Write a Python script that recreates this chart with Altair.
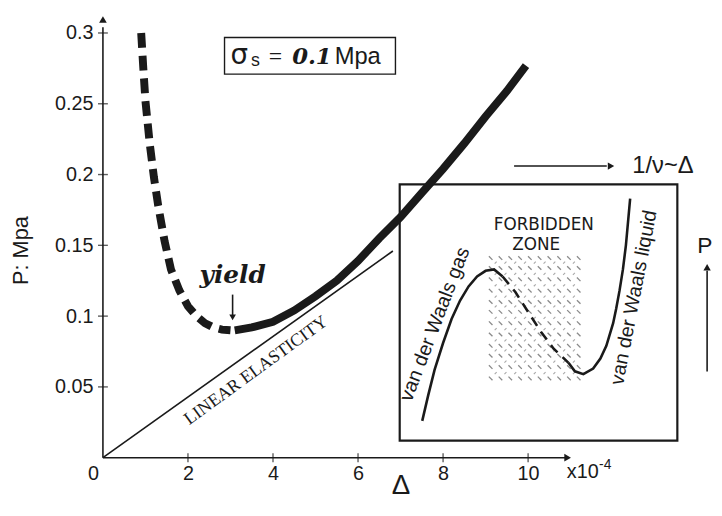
import altair as alt
import pandas as pd

# ---------------- data ----------------
# main curve, dashed (unstable) branch: Delta (x1e-4), P (MPa)
dash_d = [0.90, 0.95, 1.00, 1.10, 1.20, 1.30, 1.45, 1.60, 1.80, 2.00, 2.20, 2.40, 2.60, 2.80, 3.00]
dash_p = [0.300, 0.275, 0.252, 0.222, 0.198, 0.178, 0.153, 0.133, 0.118, 0.107, 0.100, 0.095, 0.092, 0.0905, 0.090]
# main curve, solid branch after yield
solid_d = [3.10, 3.50, 4.00, 4.50, 5.00, 5.50, 6.00, 6.50, 7.00, 7.50, 8.00, 8.50, 9.00, 9.50, 9.95]
solid_p = [0.090, 0.092, 0.096, 0.104, 0.114, 0.125, 0.139, 0.155, 0.170, 0.187, 0.204, 0.222, 0.241, 0.259, 0.277]
# linear elasticity line
lin_d = [0.0, 6.82]
lin_p = [0.0, 0.146]
# inset: van der Waals isotherm (drawn in main-axis units)
gas_d = [7.51, 7.65, 7.80, 8.00, 8.20, 8.40, 8.60, 8.80, 9.00, 9.20, 9.40]
gas_p = [0.026, 0.044, 0.062, 0.081, 0.098, 0.111, 0.121, 0.128, 0.132, 0.133, 0.128]
unst_d = [9.40, 9.70, 10.00, 10.30, 10.60, 10.95]
unst_p = [0.128, 0.117, 0.103, 0.089, 0.077, 0.067]
liq_d = [10.95, 11.10, 11.30, 11.53, 11.70, 11.84, 12.00, 12.07, 12.15, 12.23, 12.30, 12.40]
liq_p = [0.067, 0.061, 0.059, 0.063, 0.070, 0.079, 0.095, 0.105, 0.118, 0.133, 0.150, 0.183]
# inset frame and forbidden zone
inset_box = dict(d=6.98, d2=13.51, p=0.012, p2=0.193)
tex_cols = [9.12, 9.35, 9.58, 9.81, 10.04, 10.27, 10.50, 10.73, 10.96, 11.19]
tex_rows = [0.056, 0.064, 0.072, 0.079, 0.087, 0.095, 0.103, 0.110, 0.118, 0.126, 0.134, 0.141]
# sigma box
sig_box = dict(d=2.86, d2=6.88, p=0.2709, p2=0.2968)
# axis ticks
x_ticks = [0, 2, 4, 6, 8, 10]
y_ticks = [0.05, 0.10, 0.15, 0.20, 0.25, 0.30]

FONT = "Liberation Sans"
INK = "#1a1a1a"

xs = alt.Scale(domain=[0, 14], nice=False, zero=False)
ys = alt.Scale(domain=[0, 0.315], nice=False, zero=False)


def enc(chart, **extra):
    return chart.encode(x=alt.X("d:Q", scale=xs), y=alt.Y("p:Q", scale=ys), **extra)


def line(d, p, **mk):
    df = pd.DataFrame({"d": d, "p": p, "i": list(range(len(d)))})
    return enc(alt.Chart(df).mark_line(color=INK, **mk), order="i:Q")


def text(s, d, p, size, font=FONT, angle=0, align="left", baseline="alphabetic",
         style="normal", weight="normal"):
    df = pd.DataFrame({"d": [d], "p": [p], "t": [s]})
    return enc(alt.Chart(df).mark_text(font=font, fontSize=size, angle=angle, align=align,
                                       baseline=baseline, fontStyle=style, fontWeight=weight,
                                       color=INK), text="t:N")


def seg(d1, p1, d2, p2, width=1.6):
    df = pd.DataFrame({"d": [d1], "p": [p1], "d2": [d2], "p2": [p2]})
    return alt.Chart(df).mark_rule(color=INK, strokeWidth=width).encode(
        x=alt.X("d:Q", scale=xs), y=alt.Y("p:Q", scale=ys), x2="d2:Q", y2="p2:Q")


def head(d, p, shape, size=70):
    df = pd.DataFrame({"d": [d], "p": [p]})
    return enc(alt.Chart(df).mark_point(shape=shape, size=size, filled=True, color=INK, opacity=1))


def frame(b, width=2):
    df = pd.DataFrame([b])
    return alt.Chart(df).mark_rect(filled=False, stroke=INK, strokeWidth=width).encode(
        x=alt.X("d:Q", scale=xs), x2="d2:Q", y=alt.Y("p:Q", scale=ys), y2="p2:Q")


# axis carrier layer
axis_df = pd.DataFrame({"d": [0.0], "p": [0.0]})
axes = alt.Chart(axis_df).mark_point(opacity=0).encode(
    x=alt.X("d:Q", scale=xs, axis=alt.Axis(
        values=x_ticks, domain=False, grid=False, tickSize=5, tickOpacity=0,
        labelFont=FONT, labelFontSize=20, labelColor=INK, labelPadding=1, labelFlush=False,
        labelOffset={"condition": {"test": "datum.value == 0", "value": -10}, "value": 0},
        title="Δ", titleFont=FONT, titleFontSize=28, titleFontWeight="normal", titleColor=INK,
        titleX=301, titleY=28, titleAlign="center", titleBaseline="middle")),
    y=alt.Y("p:Q", scale=ys, axis=alt.Axis(
        values=y_ticks, format=".2~f", domain=False, grid=False, tickSize=8, tickOpacity=0,
        labelFont=FONT, labelFontSize=20, labelColor=INK, labelPadding=2, labelFlush=False,
        title="P: Mpa", titleFont=FONT, titleFontSize=22, titleFontWeight="normal",
        titleColor=INK, titleX=-76, titleY=241, titleAngle=270, titleAlign="center",
        titleBaseline="alphabetic")),
)

# crossing tick marks
xt_df = pd.DataFrame({"d": x_ticks[1:], "p": [0.0] * 5})
x_tick_marks = enc(alt.Chart(xt_df).mark_tick(orient="vertical", size=9, thickness=1.4, color=INK))
yt_df = pd.DataFrame({"d": [0.0] * len(y_ticks), "p": y_ticks})
y_tick_marks = enc(alt.Chart(yt_df).mark_tick(orient="horizontal", size=10, thickness=1.4, color=INK))

# texture of the forbidden zone
tex1 = pd.DataFrame([{"d": c, "p": r} for c in tex_cols for r in tex_rows])
tex2 = pd.DataFrame([{"d": c + 0.117, "p": r + 0.0038} for c in tex_cols[:-1] for r in tex_rows[:-1]])
texture = enc(alt.Chart(tex1).mark_point(shape="M-1,-1L1,1", size=13, filled=False,
                                         stroke="#8a8a8a", strokeWidth=1.3, opacity=1))
texture2 = enc(alt.Chart(tex2).mark_point(shape="M-1,1L1,-1", size=4, filled=False,
                                          stroke="#a8a8a8", strokeWidth=1.1, opacity=1))

layers = [
    axes,
    texture, texture2,
    frame(inset_box, 2.2),
    line(gas_d, gas_p, strokeWidth=2.6),
    line(unst_d, unst_p, strokeWidth=2.6, strokeDash=[10, 7]),
    line(liq_d, liq_p, strokeWidth=2.6),
    line(lin_d, lin_p, strokeWidth=1.6),
    line(dash_d, dash_p, strokeWidth=8, strokeDash=[15, 8], strokeCap="butt"),
    line(solid_d, solid_p, strokeWidth=8, strokeCap="butt"),
    # axes lines and arrow heads
    seg(0, 0, 0, 0.304, 1.6), head(0, 0.3095, "triangle-up", 60),
    seg(0, 0, 10.9, 0, 1.6), head(10.93, 0, "triangle-right", 60),
    x_tick_marks, y_tick_marks,
    text("x10", 10.91, -0.014, 20),
    text("-4", 11.67, -0.0078, 14),
    # sigma box
    frame(sig_box, 1.4),
    text("σ", 3.0, 0.2779, 28, font="DejaVu Sans"),
    text("s", 3.48, 0.2765, 18),
    text("=", 3.90, 0.2779, 24, font="Liberation Serif"),
    text("0.1", 4.45, 0.2779, 23, font="DejaVu Serif", style="italic", weight="bold"),
    text("Mpa", 5.45, 0.2779, 24),
    # yield
    text("yield", 3.05, 0.1236, 25, font="DejaVu Serif", style="italic", weight="bold",
         align="center"),
    seg(3.05, 0.1152, 3.05, 0.1000, 1.6), head(3.05, 0.0992, "triangle-down", 45),
    text("LINEAR ELASTICITY", 3.60, 0.0615, 18, font="Liberation Serif", angle=324,
         align="center", baseline="middle"),
    # inset annotations
    seg(9.67, 0.206, 11.85, 0.206, 1.6), head(11.95, 0.206, "triangle-right", 55),
    text("1/ν~Δ", 12.45, 0.2011, 24),
    text("P", 13.98, 0.1446, 23),
    seg(14.21, 0.0608, 14.21, 0.132, 1.6), head(14.21, 0.1345, "triangle-up", 55),
    text("FORBIDDEN", 10.37, 0.1640, 17, font="DejaVu Sans", align="center", baseline="middle"),
    text("ZONE", 10.19, 0.1505, 17, font="DejaVu Sans", align="center", baseline="middle"),
    text("van der Waals gas", 7.81, 0.0943, 20, angle=291, align="center", baseline="middle"),
    text("van der Waals liquid", 12.49, 0.1131, 20, angle=281, align="center",
         baseline="middle"),
]

chart = alt.layer(*layers).properties(
    width=602, height=451, autosize="none",
    padding={"left": 96, "top": 1, "right": 16, "bottom": 40},
    background="white",
).configure_view(stroke=None)

chart.save("out.html", embed_options={"renderer": "svg", "actions": False})
